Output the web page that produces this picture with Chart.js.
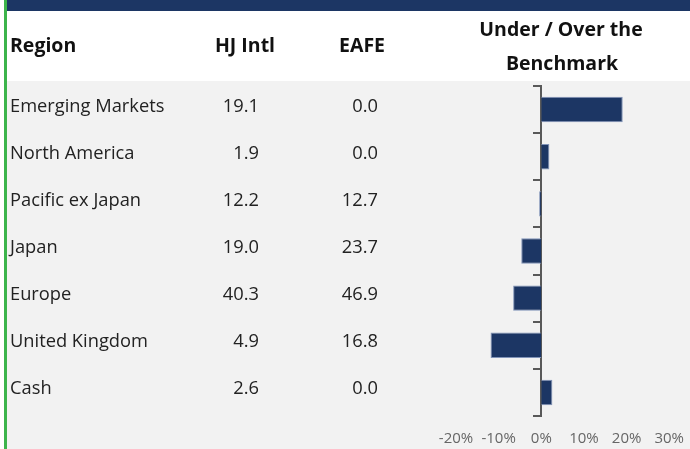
<!DOCTYPE html>
<html>
<head>
<meta charset="utf-8">
<script src="https://cdn.jsdelivr.net/npm/chart.js@4/dist/chart.umd.min.js"></script>
<style>
  body { margin: 0; width: 690px; height: 449px; overflow: hidden; background: #fff; font-family: "Open Sans", sans-serif; }
  #wrap { position: relative; width: 690px; height: 449px; }
  .band { position: absolute; left: 7px; top: 0; width: 683px; height: 11px; background: #1c3664; }
  .green { position: absolute; left: 4px; top: 0; width: 3px; height: 449px; background: #3cb44b; }
  .gray { position: absolute; left: 7px; top: 81px; width: 683px; height: 368px; background: #f2f2f2; }
  canvas { position: absolute; left: 0; top: 0; }
  .hd { position: absolute; font-weight: 700; font-size: 19.5px; color: #111; white-space: nowrap; line-height: 1; }
  .cell { position: absolute; font-size: 18.3px; color: #222; white-space: nowrap; line-height: 1; }
</style>
</head>
<body>
<div id="wrap">
  <div class="band"></div>
  <div class="gray"></div>
  <div class="green"></div>
  <canvas id="bench" width="690" height="449"></canvas>
  <div id="table"></div>
</div>
<script>
// table columns and the bar series
const regions = ['Emerging Markets', 'North America', 'Pacific ex Japan', 'Japan', 'Europe', 'United Kingdom', 'Cash']
const hjIntl = [19.1, 1.9, 12.2, 19.0, 40.3, 4.9, 2.6]
const eafe = [0.0, 0.0, 12.7, 23.7, 46.9, 16.8, 0.0]
const underOver = [19.1, 1.9, -0.5, -4.7, -6.6, -11.9, 2.6]
const xTicks = [-20, -10, 0, 10, 20, 30]

const table = document.getElementById('table')

function addText(cls, txt, css) {
  const d = document.createElement('div')
  d.className = cls
  d.textContent = txt
  Object.assign(d.style, css)
  table.appendChild(d)
}

// header
addText('hd', 'Region', { left: '10px', top: '35px' })
addText('hd', 'HJ Intl', { left: '245px', top: '35px', transform: 'translateX(-50%)' })
addText('hd', 'EAFE', { left: '362px', top: '35px', transform: 'translateX(-50%)' })
addText('hd', 'Under / Over the', { left: '561px', top: '19px', transform: 'translateX(-50%)' })
addText('hd', 'Benchmark', { left: '562px', top: '53px', transform: 'translateX(-50%)' })

const config = {
  type: 'bar',
  data: {
    labels: regions,
    datasets: [{
      data: underOver,
      backgroundColor: '#1c3664',
      borderColor: '#8093b8',
      borderWidth: 1,
      barPercentage: 0.54,
      categoryPercentage: 1
    }]
  },
  options: {
    indexAxis: 'y',
    responsive: false,
    animation: false,
    layout: { padding: { left: 456, right: 20, top: 86, bottom: 0 } },
    plugins: { legend: { display: false }, tooltip: { enabled: false } },
    scales: {
      x: {
        min: -20,
        max: 30,
        afterBuildTicks: (s) => { s.ticks = xTicks.map(v => ({ value: v })) },
        afterFit: (s) => { s.height = 33 },
        grid: { display: false },
        border: { display: false },
        ticks: {
          padding: 6,
          color: '#666',
          font: { family: 'Open Sans', size: 15 },
          callback: (v) => v + '%'
        }
      },
      y: {
        position: { x: 0 },
        afterFit: (s) => { s.width = 0 },
        grid: { display: true, drawOnChartArea: false, drawTicks: true, tickLength: 7, color: '#595959', lineWidth: 2, offset: true },
        border: { display: true, color: '#595959', width: 2 },
        ticks: { display: false }
      }
    }
  },
  plugins: [{
    id: 'rows',
    afterDraw(chart) {
      if (chart._rowsDone) return
      chart._rowsDone = true
      const ys = chart.scales.y
      regions.forEach((r, i) => {
        const top = ys.getPixelForValue(i) - 14
        addText('cell', r, { left: '10px', top: top + 'px' })
        addText('cell', hjIntl[i].toFixed(1), { right: (690 - 259) + 'px', top: top + 'px' })
        addText('cell', eafe[i].toFixed(1), { right: (690 - 378) + 'px', top: top + 'px' })
      })
    }
  }]
}

const benchChart = new Chart(document.getElementById('bench'), config)
</script>
</body>
</html>
